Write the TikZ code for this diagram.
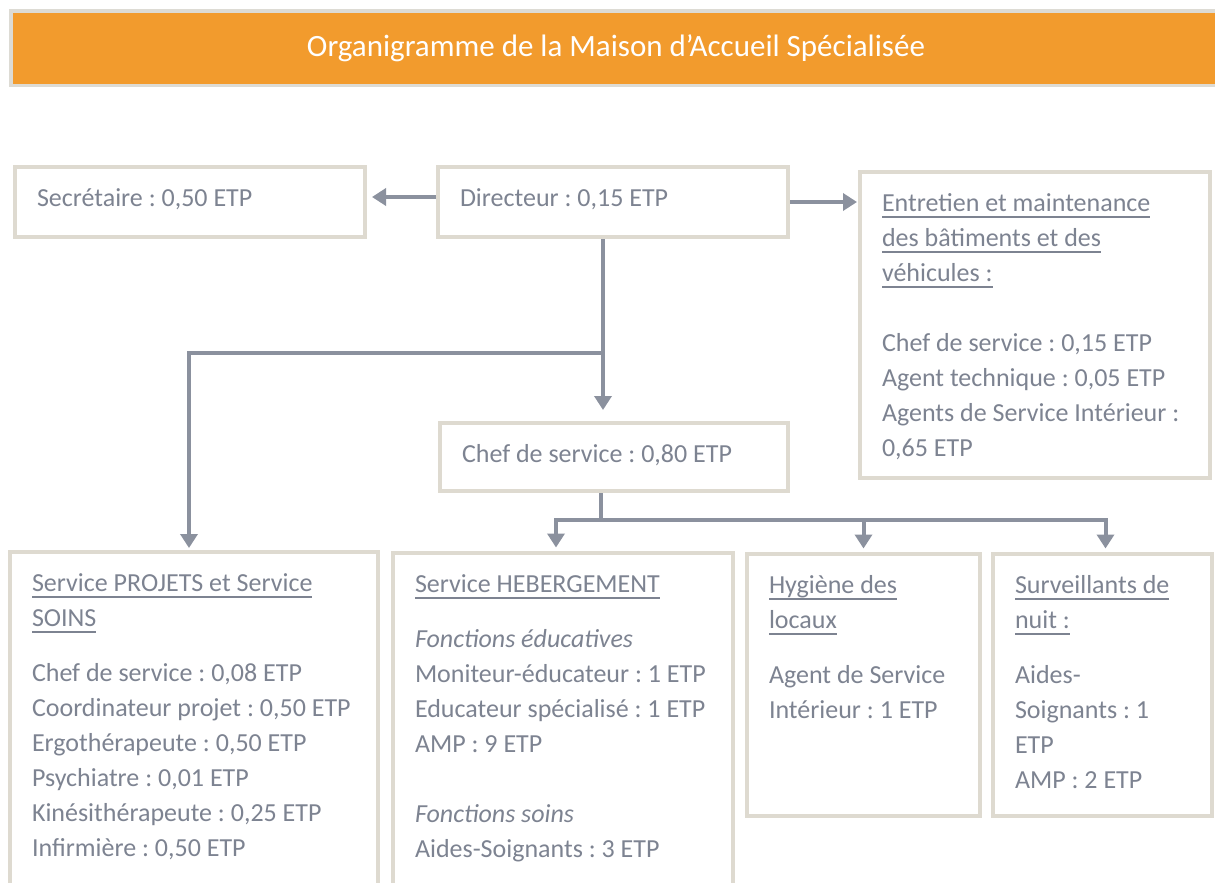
\documentclass[tikz,border=0pt]{standalone}
\usepackage{fontspec}
\setmainfont{Carlito}
\usetikzlibrary{arrows.meta}
\frenchspacing
\definecolor{bandorange}{RGB}{242,155,45}
\definecolor{bandframe}{RGB}{221,219,212}
\definecolor{boxframe}{RGB}{222,218,208}
\definecolor{linkgray}{RGB}{139,145,158}
\definecolor{textgray}{RGB}{125,131,145}
\newsavebox{\ulinebox}
\newcommand{\ulined}[1]{\leavevmode\sbox{\ulinebox}{#1}\rlap{\rule[-6.5pt]{\wd\ulinebox}{1.8pt}}\usebox{\ulinebox}}
\newcommand{\cellbox}[3]{\parbox[t][#2][t]{#1}{\raggedright\strut#3}}
\tikzset{
  band/.style={fill=bandorange, draw=bandframe, line width=3.5pt, anchor=north west,
    minimum width=1215pt, minimum height=74.5pt, inner sep=0pt, outer sep=0pt},
  title/.style={text=white, font=\fontsize{31}{36}\selectfont},
  cell/.style={draw=boxframe, line width=4pt, fill=white, anchor=north west, outer sep=0pt,
    inner xsep=22pt, inner ysep=14.5pt, text=textgray, font=\fontsize{26}{35}\selectfont},
  plain/.style={draw=linkgray, line width=4pt},
  link/.style={plain, -{Triangle[width=17pt,length=14pt]}},
}
\begin{document}
\begin{tikzpicture}[x=1pt,y=-1pt]
  \useasboundingbox (0,0) rectangle (1215,883);
  \node[band] (band) at (11,11) {};
  \node[title] (title) at (616,48) {Organigramme de la Maison d’Accueil Spécialisée};

  \node[cell] (sec) at (15,167) {\cellbox{306pt}{41pt}{Secrétaire : 0,50 ETP}};
  \node[cell] (dir) at (438,167) {\cellbox{306pt}{41pt}{Directeur : 0,15 ETP}};
  \node[cell] (ent) at (860,172) {\cellbox{306pt}{277pt}{%
    \ulined{Entretien et maintenance}\\
    \ulined{des bâtiments et des}\\
    \ulined{véhicules :}\\[35pt]
    Chef de service : 0,15 ETP\\
    Agent technique : 0,05 ETP\\
    Agents de Service Intérieur :\\
    0,65 ETP}};
  \node[cell] (chef) at (440,423) {\cellbox{304pt}{39pt}{Chef de service : 0,80 ETP}};
  \node[cell] (proj) at (10,552) {\cellbox{324pt}{316pt}{%
    \ulined{Service PROJETS et Service}\\
    \ulined{SOINS}\\[20pt]
    Chef de service : 0,08 ETP\\
    Coordinateur projet : 0,50 ETP\\
    Ergothérapeute : 0,50 ETP\\
    Psychiatre : 0,01 ETP\\
    Kinésithérapeute : 0,25 ETP\\
    Infirmière : 0,50 ETP}};
  \node[cell] (heb) at (393,553) {\cellbox{296pt}{316pt}{%
    \ulined{Service HEBERGEMENT}\\[20pt]
    \textit{Fonctions éducatives}\\
    Moniteur-éducateur : 1 ETP\\
    Educateur spécialisé : 1 ETP\\
    AMP : 9 ETP\\[35pt]
    \textit{Fonctions soins}\\
    Aides-Soignants : 3 ETP}};
  \node[cell] (hyg) at (747,554) {\cellbox{189pt}{233pt}{%
    \ulined{Hygiène des}\\
    \ulined{locaux}\\[20pt]
    Agent de Service\\
    Intérieur : 1 ETP}};
  \node[cell] (surv) at (993,554) {\cellbox{175pt}{233pt}{%
    \ulined{Surveillants de}\\
    \ulined{nuit :}\\[20pt]
    Aides-\\
    Soignants : 1\\
    ETP\\
    AMP : 2 ETP}};

  \coordinate (split) at (603,353);
  \coordinate (bus) at (601,520);
  \draw[link, shorten <=2pt, shorten >=7pt] ([yshift=5pt]dir.west) -- ([yshift=5pt]sec.east);
  \draw[link, shorten <=2pt, shorten >=3pt] (dir.east) -- (dir.east -| ent.west);
  \draw[link, shorten <=2pt, shorten >=13pt] ([xshift=-10pt]dir.south) -- ([xshift=-10pt]dir.south |- chef.north);
  \draw[link, shorten >=4pt] (split) -| ([xshift=-5pt]proj.north);
  \draw[plain, shorten <=2pt] (bus |- chef.south) -- (bus);
  \draw[link, shorten >=5.5pt] (bus) -| ([xshift=-7pt]heb.north);
  \draw[link, shorten >=5.5pt] (bus) -| (hyg.north);
  \draw[link, shorten >=5.5pt] (bus) -| ([xshift=3pt]surv.north);
\end{tikzpicture}
\end{document}
